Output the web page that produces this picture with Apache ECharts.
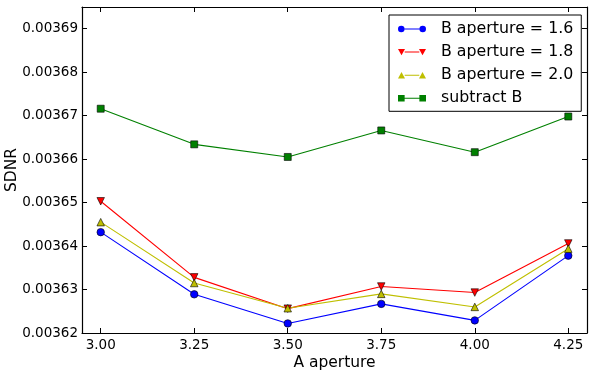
<!DOCTYPE html>
<html>
<head>
    <meta charset="utf-8">
    <title>SDNR vs A aperture</title>
    <script src="https://cdn.jsdelivr.net/npm/echarts@6/dist/echarts.min.js"></script>
    <style>
        html, body { margin: 0; padding: 0; background: #fff; }
        #chart { width: 598px; height: 375px; }
    </style>
</head>
<body>
<div id="chart"></div>
<script type="text/javascript">
    // A aperture values (x)
    var aAperture = [3.00, 3.25, 3.50, 3.75, 4.00, 4.25];
    // SDNR values
    var sdnrB16 = [0.0036432, 0.0036289, 0.0036222, 0.0036267, 0.0036229, 0.0036378];
    var sdnrB18 = [0.0036503, 0.0036328, 0.0036256, 0.0036307, 0.0036293, 0.0036406];
    var sdnrB20 = [0.0036455, 0.0036315, 0.0036257, 0.0036290, 0.0036260, 0.0036394];
    var sdnrSub = [0.0036716, 0.0036634, 0.0036605, 0.0036666, 0.0036616, 0.0036698];
    // tick labels
    var xTicks = [3.00, 3.25, 3.50, 3.75, 4.00, 4.25];
    var yTicks = [0.00362, 0.00363, 0.00364, 0.00365, 0.00366, 0.00367, 0.00368, 0.00369];

    var font = 'DejaVu Sans';

    // legend handles like matplotlib: marker - line - marker
    var lineBit = 'M6.7,3 L21.3,3 L21.3,4 L6.7,4 Z ';
    var icons = {
        circle: 'path://M0.3,3.5 A3.2,3.2 0 1,1 6.7,3.5 A3.2,3.2 0 1,1 0.3,3.5 Z ' + lineBit +
                'M21.3,3.5 A3.2,3.2 0 1,1 27.7,3.5 A3.2,3.2 0 1,1 21.3,3.5 Z',
        down: 'path://M0,0.3 L7,0.3 L3.5,6.7 Z ' + lineBit + 'M21,0.3 L28,0.3 L24.5,6.7 Z',
        up: 'path://M0,6.7 L7,6.7 L3.5,0.3 Z ' + lineBit + 'M21,6.7 L28,6.7 L24.5,0.3 Z',
        rect: 'path://M0.5,0.3 L6.9,0.3 L6.9,6.7 L0.5,6.7 Z ' + lineBit + 'M21.1,0.3 L27.5,0.3 L27.5,6.7 L21.1,6.7 Z'
    };

    function pairs(ys) {
        var out = [];
        for (var i = 0; i < aAperture.length; i++) out.push([aAperture[i], ys[i]]);
        return out;
    }

    function lineSeries(name, ys, color, symbol, rotate) {
        return {
            name: name,
            type: 'line',
            data: pairs(ys),
            symbol: symbol,
            symbolSize: symbol === 'rect' ? 7 : 7.5,
            symbolRotate: rotate || 0,
            showAllSymbol: true,
            lineStyle: { color: color, width: 1.1 },
            itemStyle: { color: color, borderColor: '#000', borderWidth: 0.6 },
            emphasis: { disabled: true }
        };
    }

    var axisLine = { show: true, lineStyle: { color: '#000', width: 1.2 } };

    function ticks(values) {
        return { inside: true, length: 5, customValues: values, lineStyle: { color: '#000' } };
    }

    var option = {
        animation: false,
        grid: { left: 82, right: 11, top: 7, bottom: 42, outerBoundsMode: 'none' },
        legend: {
            orient: 'vertical',
            left: 389,
            top: 15,
            padding: [5, 8, 4, 9],
            itemWidth: 28,
            itemHeight: 7,
            itemGap: 5.1,
            backgroundColor: '#fff',
            borderColor: '#000',
            borderWidth: 1,
            borderRadius: 0,
            itemStyle: { borderWidth: 0 },
            textStyle: { fontFamily: font, fontSize: 15.8, lineHeight: 18, color: '#000', padding: [0, 0, 0, 10] },
            data: [
                { name: 'B aperture = 1.6', icon: icons.circle },
                { name: 'B aperture = 1.8', icon: icons.down },
                { name: 'B aperture = 2.0', icon: icons.up },
                { name: 'subtract B', icon: icons.rect }
            ]
        },
        xAxis: [{
            type: 'value',
            min: 2.95,
            max: 4.30,
            name: 'A aperture',
            nameLocation: 'middle',
            nameGap: 22,
            nameMoveOverlap: false,
            nameTextStyle: { fontFamily: font, fontSize: 15.5, color: '#000' },
            axisLine: axisLine,
            splitLine: { show: false },
            axisTick: ticks(xTicks),
            axisLabel: {
                customValues: xTicks, margin: 5,
                fontFamily: font, fontSize: 13.5, color: '#000',
                formatter: function (v) { return v.toFixed(2); }
            }
        }, {
            type: 'value',
            position: 'top',
            min: 2.95,
            max: 4.30,
            axisLine: axisLine,
            splitLine: { show: false },
            axisTick: ticks(xTicks),
            axisLabel: { show: false }
        }],
        yAxis: [{
            type: 'value',
            min: 0.00362,
            max: 0.003695,
            name: 'SDNR',
            nameLocation: 'middle',
            nameGap: 62,
            nameMoveOverlap: false,
            nameTextStyle: { fontFamily: font, fontSize: 15.5, color: '#000' },
            axisLine: axisLine,
            splitLine: { show: false },
            axisTick: ticks(yTicks),
            axisLabel: {
                customValues: yTicks, margin: 4,
                fontFamily: font, fontSize: 13.5, color: '#000',
                formatter: function (v) { return v.toFixed(5); }
            }
        }, {
            type: 'value',
            position: 'right',
            min: 0.00362,
            max: 0.003695,
            axisLine: axisLine,
            splitLine: { show: false },
            axisTick: ticks(yTicks),
            axisLabel: { show: false }
        }],
        series: [
            lineSeries('B aperture = 1.6', sdnrB16, '#0000ff', 'circle'),
            lineSeries('B aperture = 1.8', sdnrB18, '#ff0000', 'triangle', 180),
            lineSeries('B aperture = 2.0', sdnrB20, '#bfbf00', 'triangle'),
            lineSeries('subtract B', sdnrSub, '#008000', 'rect')
        ]
    };

    var myChart = echarts.init(document.getElementById('chart'));
    myChart.setOption(option);
</script>
</body>
</html>
